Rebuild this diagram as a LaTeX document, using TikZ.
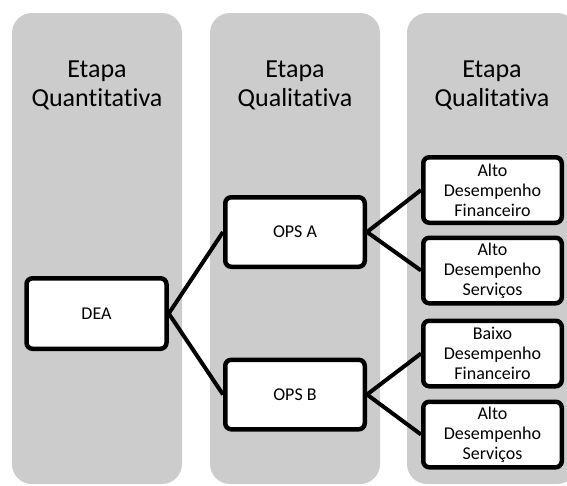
\documentclass[tikz,border=0pt]{standalone}
\usepackage{fontspec}
\setmainfont{Carlito}[RawFeature=-liga]
\definecolor{colgrey}{HTML}{CCCCCC}
\begin{document}
\begin{tikzpicture}[x=1pt,y=-1pt,
  stage/.style={fill=colgrey, rounded corners=20pt},
  stagetitle/.style={font=\fontsize{26}{29}\selectfont, align=center, inner sep=0pt},
  boxA/.style={draw=black, fill=white, line width=4.5pt, rounded corners=6pt,
    minimum width=140pt, minimum height=70.5pt, inner sep=0pt,
    font=\fontsize{18}{20}\selectfont, align=center},
  boxB/.style={boxA, minimum width=138.5pt, minimum height=65.5pt},
  link/.style={draw=black, line width=4pt}]
\useasboundingbox (0,0) rectangle (567,485);
\clip (0,0) rectangle (567,485);

% stage columns
\fill[stage] (12,13) rectangle (182,484);
\fill[stage] (210,13) rectangle (380,484);
\fill[stage] (407,13) rectangle (577,484);

% stage titles
\node[stagetitle] (t1) at (97,85) {Etapa\\Quantitativa};
\node[stagetitle] (t2) at (295,85) {Etapa\\Qualitativa};
\node[stagetitle] (t3) at (492,85) {Etapa\\Qualitativa};

% boxes
\node[boxA] (dea) at (96.5,313.5) {DEA};
\node[boxA, minimum width=139.5pt, minimum height=69.5pt] (opsa) at (295,232) {OPS A};
\node[boxA, minimum width=139.5pt, minimum height=69.5pt] (opsb) at (295,394.5) {OPS B};
\node[boxB] (r1) at (492.5,190) {Alto\\Desempenho\\Financeiro};
\node[boxB] (r2) at (492.5,270.5) {Alto\\Desempenho\\Serviços};
\node[boxB] (r3) at (492.5,353.5) {Baixo\\Desempenho\\Financeiro};
\node[boxB] (r4) at (492.5,434.5) {Alto\\Desempenho\\Serviços};

% connectors
\draw[link] (dea.east) -- (opsa.west);
\draw[link] (dea.east) -- (opsb.west);
\draw[link] (opsa.east) -- (r1.west);
\draw[link] (opsa.east) -- (r2.west);
\draw[link] (opsb.east) -- (r3.west);
\draw[link] (opsb.east) -- (r4.west);
\end{tikzpicture}
\end{document}
